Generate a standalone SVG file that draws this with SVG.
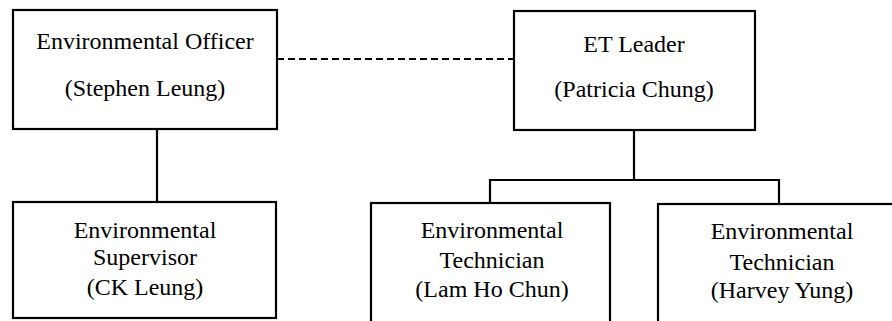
<svg xmlns="http://www.w3.org/2000/svg" width="892" height="321" viewBox="0 0 892 321">
<style>
.box{fill:#fff;stroke:#000;stroke-width:2.2}
.t{font-family:"Liberation Serif","Times New Roman","DejaVu Serif",serif;font-size:24px;fill:#000;text-anchor:middle}
.ln{stroke:#000;stroke-width:2.2;fill:none}
.dash{stroke:#000;stroke-width:2.2;fill:none;stroke-dasharray:7 4}
</style>
<rect width="892" height="321" fill="#fff"/>
<g id="connectors">
<line class="dash" x1="277" y1="59" x2="514" y2="59"/>
<line class="ln" x1="157" y1="129" x2="157" y2="202"/>
<line class="ln" x1="634" y1="130" x2="634" y2="180"/>
<polyline class="ln" points="490,203 490,180 779,180 779,204"/>
</g>
<g id="officer">
<rect class="box" x="13" y="10" width="264" height="119"/>
<text class="t" x="145" y="49">Environmental Officer</text>
<text class="t" x="145" y="96">(Stephen Leung)</text>
</g>
<g id="etleader">
<rect class="box" x="514" y="11" width="241" height="119"/>
<text class="t" x="634" y="52">ET Leader</text>
<text class="t" x="634" y="97">(Patricia Chung)</text>
</g>
<g id="supervisor">
<rect class="box" x="13" y="202" width="263" height="116"/>
<text class="t" x="145" y="238">Environmental</text>
<text class="t" x="145" y="265">Supervisor</text>
<text class="t" x="145" y="295">(CK Leung)</text>
</g>
<g id="tech1">
<rect class="box" x="371" y="203" width="239" height="130"/>
<text class="t" x="492" y="238">Environmental</text>
<text class="t" x="492" y="268">Technician</text>
<text class="t" x="492" y="297">(Lam Ho Chun)</text>
</g>
<g id="tech2">
<rect class="box" x="658" y="204" width="250" height="130"/>
<text class="t" x="782" y="239">Environmental</text>
<text class="t" x="782" y="270">Technician</text>
<text class="t" x="782" y="298">(Harvey Yung)</text>
</g>
</svg>
